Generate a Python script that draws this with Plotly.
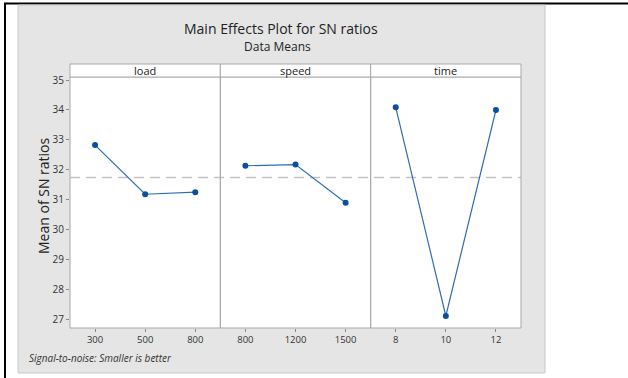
import plotly.graph_objects as go

# ---- data ----
factors = ["load", "speed", "time"]
load_levels = ["300", "500", "800"]
speed_levels = ["800", "1200", "1500"]
time_levels = ["8", "10", "12"]
load_sn = [32.83, 31.19, 31.26]
speed_sn = [32.14, 32.18, 30.91]
time_sn = [34.09, 27.13, 34.00]
overall_mean = 31.75
y_ticks = [27, 28, 29, 30, 31, 32, 33, 34, 35]

levels = [load_levels, speed_levels, time_levels]
values = [load_sn, speed_sn, time_sn]

W, H = 628, 378
L, R, T, B = 70, 521, 64, 328          # plot area in px
PW, PH = R - L, B - T
STRIP_BOTTOM = 77

def px(x):
    return (x - L) / PW

def py(y):
    return (B - y) / PH

font_family = "Open Sans, Noto Sans, DejaVu Sans, sans-serif"
line_col = "#2e6db4"
mark_col = "#0b4f9c"
border_col = "#a9a9a9"

fig = go.Figure()
xa_names = ["x", "x2", "x3"]
for i in range(3):
    fig.add_trace(go.Scatter(
        x=list(range(len(levels[i]))), y=values[i],
        xaxis=xa_names[i], yaxis="y",
        mode="lines+markers",
        line=dict(color=line_col, width=1.2),
        marker=dict(color=mark_col, size=6),
        showlegend=False, hoverinfo="skip"))

ydom_top = py(STRIP_BOTTOM)
layout = dict(
    width=W, height=H,
    margin=dict(l=L, r=W - R, t=T, b=H - B, pad=0),
    paper_bgcolor="white", plot_bgcolor="white",
    font=dict(family=font_family, color="#222222"),
    yaxis=dict(domain=[0, ydom_top], range=[26.73, 35.1],
               tickvals=y_ticks, ticks="outside", ticklen=3,
               tickcolor="#888888", showgrid=False, zeroline=False,
               showline=False, tickfont=dict(size=10, color="#333333")),
)
for i in range(3):
    key = "xaxis" if i == 0 else f"xaxis{i+1}"
    layout[key] = dict(
        domain=[i / 3, (i + 1) / 3], anchor="y", range=[-0.5, 2.5],
        tickvals=list(range(len(levels[i]))), ticktext=levels[i],
        ticks="outside", ticklen=3, tickcolor="#888888",
        showgrid=False, zeroline=False, showline=False,
        tickfont=dict(size=9.5, color="#333333"))
fig.update_layout(**layout)

shapes = []
# outer black frame lines
shapes.append(dict(type="line", xref="paper", yref="paper",
                   x0=px(4), x1=px(628), y0=py(3.5), y1=py(3.5),
                   line=dict(color="black", width=2), layer="below"))
shapes.append(dict(type="line", xref="paper", yref="paper",
                   x0=px(5), x1=px(5), y0=py(3), y1=py(378),
                   line=dict(color="black", width=2), layer="below"))
# gray panel
shapes.append(dict(type="rect", xref="paper", yref="paper",
                   x0=px(18), x1=px(545), y0=py(5), y1=py(373),
                   fillcolor="#e5e5e5", line=dict(color="#c8c8c8", width=1),
                   layer="below"))
# white plot area
shapes.append(dict(type="rect", xref="paper", yref="paper",
                   x0=0, x1=1, y0=0, y1=1,
                   fillcolor="white", line=dict(width=0), layer="below"))
# mean reference line
shapes.append(dict(type="line", xref="paper", yref="y",
                   x0=0, x1=1, y0=overall_mean, y1=overall_mean,
                   line=dict(color="#c2c2c2", width=1.5, dash="10px,6px"),
                   layer="below"))
# panel borders and strips
for i in range(3):
    x0, x1 = i / 3, (i + 1) / 3
    shapes.append(dict(type="rect", xref="paper", yref="paper",
                       x0=x0, x1=x1, y0=0, y1=ydom_top,
                       line=dict(color=border_col, width=1), layer="above"))
    shapes.append(dict(type="rect", xref="paper", yref="paper",
                       x0=x0, x1=x1, y0=ydom_top, y1=1,
                       fillcolor="white",
                       line=dict(color=border_col, width=1), layer="above"))
fig.update_layout(shapes=shapes)

ann = []
ann.append(dict(text="Main Effects Plot for SN ratios", x=px(281), y=py(28.5),
                xref="paper", yref="paper", showarrow=False,
                font=dict(size=14, color="#222222"),
                xanchor="center", yanchor="middle"))
ann.append(dict(text="Data Means", x=px(277), y=py(46.5),
                xref="paper", yref="paper", showarrow=False,
                font=dict(size=12, color="#222222"),
                xanchor="center", yanchor="middle"))
for i, name in enumerate(factors):
    ann.append(dict(text=name, x=(i + 0.5) / 3, y=py(70.5),
                    xref="paper", yref="paper", showarrow=False,
                    font=dict(size=11, color="#222222"),
                    xanchor="center", yanchor="middle"))
ann.append(dict(text="Mean of SN ratios", x=px(43), y=py(196),
                xref="paper", yref="paper", showarrow=False, textangle=-90,
                font=dict(size=14, color="#222222"),
                xanchor="center", yanchor="middle"))
ann.append(dict(text="<i>Signal-to-noise: Smaller is better</i>",
                x=px(27), y=py(358), xref="paper", yref="paper",
                showarrow=False, font=dict(size=10, color="#333333"),
                xanchor="left", yanchor="middle"))
fig.update_layout(annotations=ann)

fig.write_html("out.html",
               config={"displayModeBar": False},
               post_script="document.body.style.margin='0';")
